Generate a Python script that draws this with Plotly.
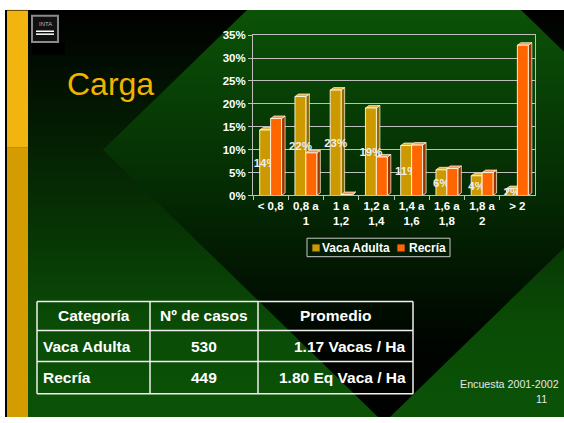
import plotly.graph_objects as go

# ---------------- data ----------------
categories = ["< 0,8", "0,8 a<br>1", "1 a<br>1,2", "1,2 a<br>1,4",
              "1,4 a<br>1,6", "1,6 a<br>1,8", "1,8 a<br>2", "> 2"]
vaca_adulta = [14.3, 21.6, 23.0, 19.1, 10.9, 5.6, 4.3, 1.5]
recria = [16.8, 9.3, 0.2, 8.4, 11.0, 5.9, 5.0, 32.8]
series_names = ["Vaca Adulta", "Recría"]
y_ticks = [0, 5, 10, 15, 20, 25, 30, 35]

title_text = "Carga"
table_header = ["Categoría", "Nº de casos", "Promedio"]
table_categoria = ["Vaca Adulta", "Recría"]
table_casos = ["530", "449"]
table_promedio = ["1.17 Vacas / Ha", "1.80 Eq Vaca / Ha"]
footer_lines = ["Encuesta 2001-2002", "11"]

# ---------------- styling / layout ----------------
W, H = 564, 423
FONT = "Arial, Liberation Sans, sans-serif"
GREEN = "#0b5207"
VA_COL, VA_SIDE, VA_TOP = "#CC9900", "#8F6B00", "#DDB540"
RC_COL, RC_SIDE, RC_TOP = "#FF6600", "#993300", "#FF8F4A"
EDGE = "rgba(255,250,225,0.9)"
GRID = "#bebebe"


def pxx(x):
    return x / W


def pxy(y):
    return 1 - y / H


def bgy(y):
    return H - y


fig = go.Figure()

# ---- slide background (subplot x/y covers the whole figure) ----
bg_px = [(5, 4), (W, 4), (W, H), (5, H), (5, 4)]
fig.add_trace(go.Scatter(
    x=[p[0] for p in bg_px], y=[bgy(p[1]) for p in bg_px],
    mode="lines", fill="toself", line=dict(width=0),
    fillgradient=dict(type="vertical",
                      colorscale=[[0, GREEN], [0.22, "#0a4c06"], [1, "#000000"]]),
    hoverinfo="skip", showlegend=False, xaxis="x", yaxis="y"))

# big diamond (rotated square)
dia_px = [(103, 148), (247, 4), (521, 4), (665, 148), (384, 429), (103, 148)]
fig.add_trace(go.Scatter(
    x=[p[0] for p in dia_px], y=[bgy(p[1]) for p in dia_px],
    mode="lines", fill="toself", line=dict(width=0),
    fillgradient=dict(type="vertical",
                      colorscale=[[0, "#000000"], [0.2, "#000500"],
                                  [0.55, "#042a03"], [1, GREEN]]),
    hoverinfo="skip", showlegend=False, xaxis="x", yaxis="y"))

# ---- 3D faces of the bars (subplot x2/y2, drawn under the bar fronts) ----
bargap = 0.38
w = (1 - bargap) / 2
dx = 0.1
dy = 0.55


def face_paths(values, left_offset):
    sx, sy, tx, ty = [], [], [], []
    for i, v in enumerate(values):
        xl = i + left_offset
        xr = xl + w
        sx += [xr, xr + dx, xr + dx, xr, xr, None]
        sy += [0, dy, v + dy, v, 0, None]
        tx += [xl, xr, xr + dx, xl + dx, xl, None]
        ty += [v, v, v + dy, v + dy, v, None]
    return sx, sy, tx, ty


for vals, off, side_c, top_c in [(vaca_adulta, -w, VA_SIDE, VA_TOP),
                                  (recria, 0.0, RC_SIDE, RC_TOP)]:
    sx, sy, tx, ty = face_paths(vals, off)
    fig.add_trace(go.Scatter(x=sx, y=sy, mode="lines", fill="toself",
                             fillcolor=side_c, line=dict(color=EDGE, width=0.8),
                             hoverinfo="skip", showlegend=False,
                             xaxis="x2", yaxis="y2"))
    fig.add_trace(go.Scatter(x=tx, y=ty, mode="lines", fill="toself",
                             fillcolor=top_c, line=dict(color=EDGE, width=0.8),
                             hoverinfo="skip", showlegend=False,
                             xaxis="x2", yaxis="y2"))

# ---- bar fronts (subplot x3/y3) ----
fig.add_trace(go.Bar(
    x=categories, y=vaca_adulta, name=series_names[0],
    marker=dict(color=VA_COL, line=dict(color=EDGE, width=1)),
    texttemplate="%{y:.0f}%", textposition="inside",
    insidetextanchor="middle", textangle=0, constraintext="none",
    insidetextfont=dict(family=FONT, size=11.5, color="#eeeeee", weight="bold"),
    showlegend=False, xaxis="x3", yaxis="y3"))
fig.add_trace(go.Bar(
    x=categories, y=recria, name=series_names[1],
    marker=dict(color=RC_COL, line=dict(color=EDGE, width=1)),
    showlegend=False, xaxis="x3", yaxis="y3"))

dom_x = [pxx(253), pxx(535)]
dom_y = [pxy(195), pxy(30)]
tickfont = dict(family=FONT, size=11.5, color="white", weight="bold")

fig.update_layout(
    width=W, height=H, autosize=False,
    margin=dict(l=0, r=0, t=0, b=0),
    paper_bgcolor="white", plot_bgcolor="rgba(0,0,0,0)",
    barmode="group", bargap=bargap, bargroupgap=0,
    font=dict(family=FONT, color="white"),
    showlegend=False,
    xaxis=dict(domain=[0, 1], range=[0, W], visible=False, fixedrange=True),
    yaxis=dict(domain=[0, 1], range=[0, H], visible=False, fixedrange=True),
    xaxis2=dict(domain=dom_x, range=[-0.5, len(categories) - 0.5],
                visible=False, anchor="y2"),
    yaxis2=dict(domain=dom_y, range=[0, 35], tickvals=y_ticks,
                showgrid=True, gridcolor=GRID, gridwidth=1,
                showticklabels=False, zeroline=False, anchor="x2"),
    xaxis3=dict(domain=dom_x, type="category", range=[-0.5, len(categories) - 0.5],
                categoryorder="array", categoryarray=categories,
                showline=True, linecolor=GRID, linewidth=1, mirror=True,
                ticks="outside", tickson="boundaries", ticklen=4, tickcolor=GRID,
                tickangle=0, tickfont=tickfont, showgrid=False, anchor="y3"),
    yaxis3=dict(domain=dom_y, range=[0, 35], tickvals=y_ticks,
                ticktext=[f"{v}%" for v in y_ticks],
                showline=True, linecolor=GRID, linewidth=1, mirror=True,
                ticks="outside", ticklen=4, tickcolor=GRID,
                tickfont=tickfont, showgrid=False, zeroline=False, anchor="x3"),
)

shapes = []
# thin dark left edge and yellow strip
shapes.append(dict(type="rect", xref="paper", yref="paper",
                   x0=pxx(5), x1=pxx(7), y0=pxy(H), y1=pxy(4),
                   fillcolor="#000000", line=dict(width=0)))
shapes.append(dict(type="rect", xref="paper", yref="paper",
                   x0=pxx(7), x1=pxx(28), y0=pxy(146), y1=pxy(5),
                   fillcolor="#F2B50F", line=dict(width=0)))
shapes.append(dict(type="rect", xref="paper", yref="paper",
                   x0=pxx(7), x1=pxx(28), y0=pxy(H), y1=pxy(146),
                   fillcolor="#D39C00", line=dict(width=0)))
shapes.append(dict(type="rect", xref="paper", yref="paper",
                   x0=pxx(7), x1=pxx(28), y0=pxy(5), y1=pxy(4),
                   fillcolor="#7a5a00", line=dict(width=0)))
# logo
shapes.append(dict(type="rect", xref="paper", yref="paper",
                   x0=pxx(32), x1=pxx(65), y0=pxy(50), y1=pxy(37),
                   fillcolor="#000000", line=dict(width=0)))
shapes.append(dict(type="rect", xref="paper", yref="paper",
                   x0=pxx(32), x1=pxx(58), y0=pxy(37), y1=pxy(10),
                   fillcolor="#111111", line=dict(color="#8a8a8a", width=2)))
for yy in (26, 29):
    shapes.append(dict(type="line", xref="paper", yref="paper",
                       x0=pxx(36), x1=pxx(54), y0=pxy(yy), y1=pxy(yy),
                       line=dict(color="white", width=1.5)))

# chart legend box and swatches
leg_box = (307, 239, 450, 258)
leg_items = [(series_names[0], VA_COL, 312, 321), (series_names[1], RC_COL, 397, 408)]
shapes.append(dict(type="rect", xref="paper", yref="paper",
                   x0=pxx(leg_box[0]), x1=pxx(leg_box[2]),
                   y0=pxy(leg_box[3]), y1=pxy(leg_box[1]),
                   line=dict(color="#c8c8c8", width=1)))
for name, col, sx0, tx0 in leg_items:
    shapes.append(dict(type="rect", xref="paper", yref="paper",
                       x0=pxx(sx0), x1=pxx(sx0 + 8), y0=pxy(253), y1=pxy(245),
                       fillcolor=col, line=dict(color="#222222", width=0.8)))

# table grid
t_left, t_right = 37, 413
t_rows = [304, 334, 366, 399]
t_cols = [37, 150, 258, 413]
for yy in t_rows:
    shapes.append(dict(type="line", xref="paper", yref="paper",
                       x0=pxx(t_left), x1=pxx(t_right), y0=pxy(yy), y1=pxy(yy),
                       line=dict(color="#f0f0f0", width=1.5)))
for xx in t_cols:
    shapes.append(dict(type="line", xref="paper", yref="paper",
                       x0=pxx(xx), x1=pxx(xx), y0=pxy(t_rows[0]), y1=pxy(t_rows[-1]),
                       line=dict(color="#f0f0f0", width=1.5)))
fig.update_layout(shapes=shapes)

ann = []
ann.append(dict(text="INTA", x=pxx(45), y=pxy(19), xref="paper", yref="paper",
                xanchor="center", yanchor="middle",
                showarrow=False, font=dict(family=FONT, size=6, color="#bbbbbb")))
ann.append(dict(text=title_text, x=pxx(110), y=pxy(80), xref="paper", yref="paper",
                xanchor="center", yanchor="middle", showarrow=False,
                font=dict(family=FONT, size=32, color="#F0B400")))

lfont = dict(family=FONT, size=12, color="white", weight="bold")
for name, col, sx0, tx0 in leg_items:
    ann.append(dict(text=name, x=pxx(tx0), y=pxy(249), xref="paper", yref="paper",
                    xanchor="left", yanchor="middle", showarrow=False,
                    font=lfont, borderpad=0))

tfont = dict(family=FONT, size=15.5, color="white", weight="bold")
row_y = [(t_rows[k] + t_rows[k + 1]) / 2 for k in range(3)]
col_c = [(t_cols[k] + t_cols[k + 1]) / 2 for k in range(3)]
for k, htxt in enumerate(table_header):
    ann.append(dict(text=htxt, x=pxx(col_c[k]), y=pxy(row_y[0]), xref="paper",
                    yref="paper", xanchor="center", yanchor="middle",
                    showarrow=False, font=tfont))
for r in range(len(table_categoria)):
    yy = pxy(row_y[r + 1])
    ann.append(dict(text=table_categoria[r], x=pxx(41), y=yy, xref="paper",
                    yref="paper", xanchor="left", yanchor="middle",
                    showarrow=False, font=tfont))
    ann.append(dict(text=table_casos[r], x=pxx(col_c[1]), y=yy, xref="paper",
                    yref="paper", xanchor="center", yanchor="middle",
                    showarrow=False, font=tfont))
    ann.append(dict(text=table_promedio[r], x=pxx(408), y=yy, xref="paper",
                    yref="paper", xanchor="right", yanchor="middle",
                    showarrow=False, font=tfont))

ffont = dict(family=FONT, size=10.7, color="#e6e6e6")
ann.append(dict(text=footer_lines[0], x=pxx(561), y=pxy(389), xref="paper",
                yref="paper", xanchor="right", yanchor="middle",
                showarrow=False, font=ffont))
ann.append(dict(text=footer_lines[1], x=pxx(549), y=pxy(404), xref="paper",
                yref="paper", xanchor="right", yanchor="middle",
                showarrow=False, font=ffont))
fig.update_layout(annotations=ann)

post = (
    "var gd=document.getElementById('{plot_id}');"
    "document.documentElement.style.margin='0';"
    "document.documentElement.style.padding='0';"
    "document.documentElement.style.overflow='hidden';"
    "document.body.style.margin='0';"
    "document.body.style.padding='0';"
    "document.body.style.overflow='hidden';"
    "gd.style.position='fixed';gd.style.left='0px';gd.style.top='0px';"
)
fig.write_html("out.html", config={"displayModeBar": False}, post_script=post)
